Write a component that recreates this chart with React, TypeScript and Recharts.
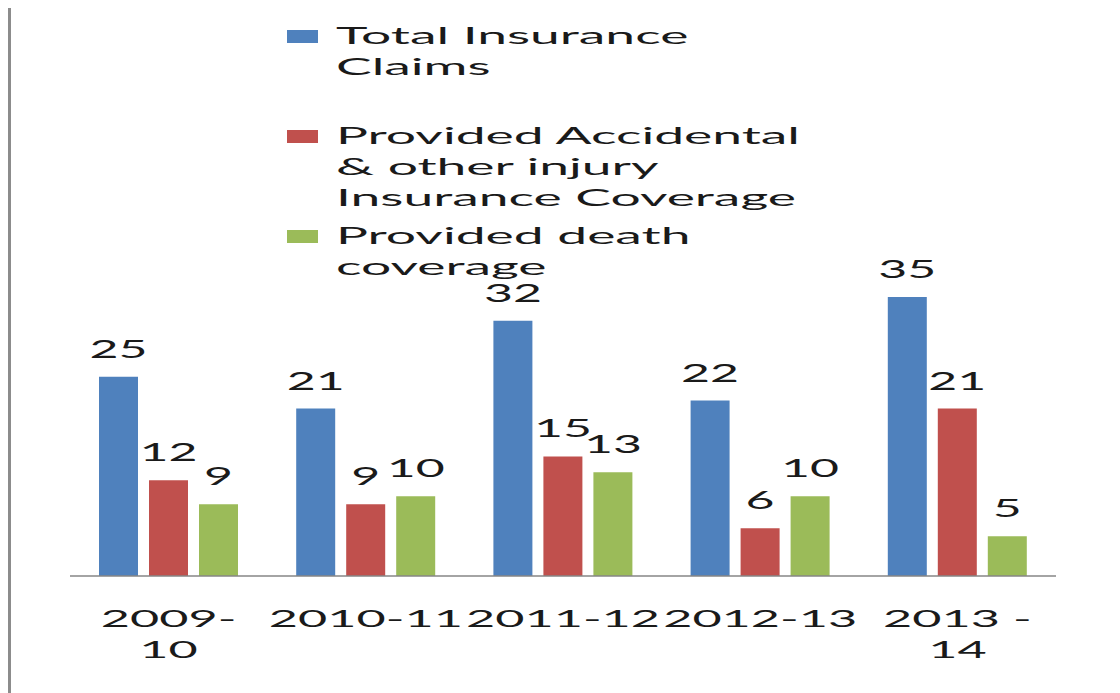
import React from "react";
import { BarChart, Bar, XAxis, YAxis, Legend, LabelList } from "recharts";

const categories = ["2009-10", "2010-11", "2011-12", "2012-13", "2013 - 14"];
const tickLines = [["2009-", "10"], ["2010-11"], ["2011-12"], ["2012-13"], ["2013 -", "14"]];

const totalClaims = [25, 21, 32, 22, 35];
const accidentalCover = [12, 9, 15, 6, 21];
const deathCover = [9, 10, 13, 10, 5];

const seriesNames = [
  "Total Insurance Claims",
  "Provided Accidental & other injury Insurance Coverage",
  "Provided death coverage",
];
const legendLines = [
  ["Total Insurance", "Claims"],
  ["Provided Accidental", "& other injury", "Insurance Coverage"],
  ["Provided death", "coverage"],
];
const colors = ["#4F81BD", "#C0504D", "#9BBB59"];

const data = categories.map((c, i) => ({
  category: c,
  total: totalClaims[i],
  accidental: accidentalCover[i],
  death: deathCover[i],
}));

// the source picture is a horizontally stretched Excel chart, so text is widened too
const SX_TICK = 2.1;
const SX_LABEL = 2.0;
const SX_LEGEND = 2.32;
const FONT = "Lato, 'Liberation Sans', sans-serif";
const INK = "#1a1a1a";

const StretchedTick = (props: any) => {
  const { x, y, index } = props;
  const lines = tickLines[index] || [String(props.payload?.value ?? "")];
  return (
    <g>
      {lines.map((line, i) => (
        <text
          key={i}
          transform={`translate(${x},${y + 51 + i * 31}) scale(${SX_TICK},1)`}
          textAnchor="middle"
          fontFamily={FONT}
          fontSize={24}
          fill={INK}
        >
          {line}
        </text>
      ))}
    </g>
  );
};

const BarValue = (props: any) => {
  const { x, y, width, value } = props;
  return (
    <text
      transform={`translate(${x + width / 2},${y - 19}) scale(${SX_LABEL},1)`}
      textAnchor="middle"
      fontFamily={FONT}
      fontSize={25}
      fill={INK}
    >
      {value}
    </text>
  );
};

const StretchedLegend = () => (
  <div style={{ fontFamily: FONT, fontSize: 23, lineHeight: "31px", color: INK }}>
    {legendLines.map((lines, i) => (
      <div key={i} style={{ position: "relative", height: 100 }}>
        <div
          style={{
            position: "absolute",
            left: 0,
            top: 10,
            width: 31,
            height: 13,
            background: colors[i],
          }}
        />
        <div
          style={{
            position: "absolute",
            left: 49,
            top: 0,
            whiteSpace: "nowrap",
            transform: `scaleX(${SX_LEGEND})`,
            transformOrigin: "left top",
          }}
        >
          {lines.map((l, j) => (
            <div key={j}>{l}</div>
          ))}
        </div>
      </div>
    ))}
  </div>
);

export default function App() {
  return (
    <div
      style={{
        position: "relative",
        marginTop: -2,
        marginLeft: -1,
        width: 1102,
        height: 690,
        borderLeft: "4px solid #8c8c8c",
        borderTop: "2px solid #9a9a9a",
        borderRight: "3px solid #9a9a9a",
        background: "#fff",
      }}
    >
      <BarChart
        width={1102}
        height={690}
        data={data}
        margin={{ top: 249, right: 57, left: 59, bottom: 0 }}
        barGap={11}
        barSize={39}
      >
        <XAxis
          dataKey="category"
          height={122}
          interval={0}
          tickLine={false}
          tickSize={0}
          tickMargin={0}
          axisLine={{ stroke: "#868686", strokeWidth: 1.5 }}
          tick={<StretchedTick />}
        />
        <YAxis hide domain={[0, 40]} />
        <Legend
          layout="horizontal"
          verticalAlign="middle"
          align="center"
          content={<StretchedLegend />}
          wrapperStyle={{ position: "absolute", left: 276, top: 12, width: 560 }}
        />
        <Bar dataKey="total" name={seriesNames[0]} fill={colors[0]} isAnimationActive={false}>
          <LabelList dataKey="total" content={<BarValue />} />
        </Bar>
        <Bar dataKey="accidental" name={seriesNames[1]} fill={colors[1]} isAnimationActive={false}>
          <LabelList dataKey="accidental" content={<BarValue />} />
        </Bar>
        <Bar dataKey="death" name={seriesNames[2]} fill={colors[2]} isAnimationActive={false}>
          <LabelList dataKey="death" content={<BarValue />} />
        </Bar>
      </BarChart>
    </div>
  );
}
